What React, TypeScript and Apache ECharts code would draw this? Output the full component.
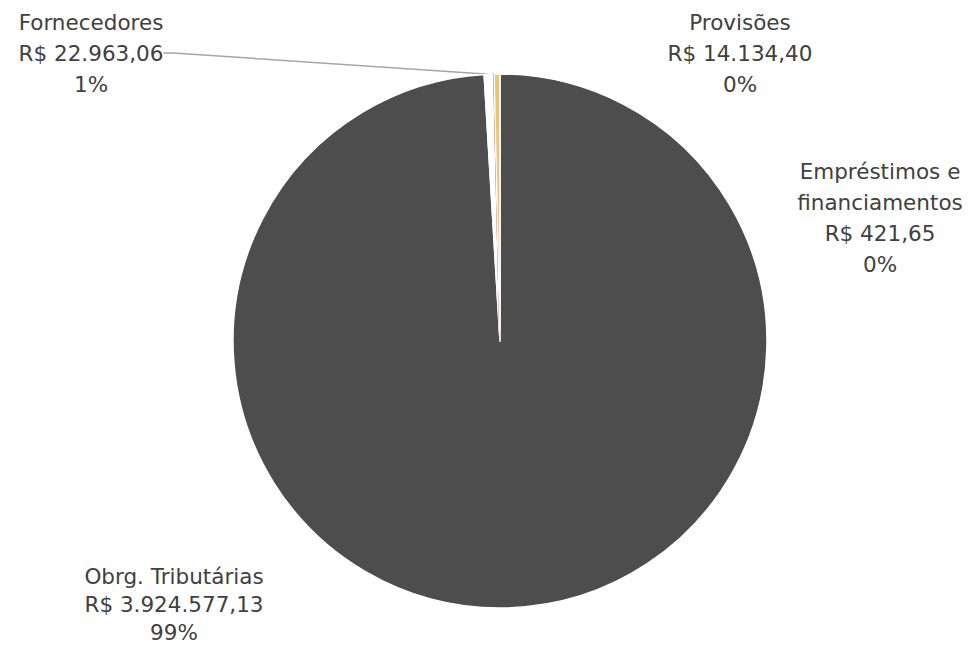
import React, { useEffect, useRef } from "react";
import * as echarts from "echarts";

const categories = ["Obrg. Tributárias", "Fornecedores", "Empréstimos e\nfinanciamentos", "Provisões"];
const values = [3924577.13, 22963.06, 421.65, 14134.4];
const colors = ["#4d4d4d", "#ffffff", "#c00000", "#e8c77f"];

// label anchor positions (layout only)
const labelPos: [number, number][] = [
  [174, 604],
  [91, 53],
  [880, 218],
  [740, 53],
];

const fmt = (v: number) =>
  v.toLocaleString("pt-BR", { minimumFractionDigits: 2, maximumFractionDigits: 2 });

export default function App() {
  const ref = useRef<HTMLDivElement>(null);
  useEffect(() => {
    document.body.style.margin = "0";
    const chart = echarts.init(ref.current!, null, { renderer: "svg" });
    const total = values.reduce((a, b) => a + b, 0);
    chart.setOption({
      animation: false,
      backgroundColor: "#ffffff",
      series: [
        {
          type: "pie",
          center: [500, 341],
          radius: 267,
          startAngle: 90,
          clockwise: true,
          avoidLabelOverlap: false,
          minShowLabelAngle: 0,
          itemStyle: { borderColor: "#ffffff", borderWidth: 1.5 },
          data: categories.map((c, i) => ({
            name: c,
            value: values[i],
            itemStyle:
              i === 2
                ? { color: colors[i], borderColor: colors[i], borderWidth: 1.5 }
                : { color: colors[i] },
            label: i === 0 ? { lineHeight: 28 } : {},
            labelLine: {
              show: i === 1,
              lineStyle: { color: "#a6a6a6", width: 1.5 },
              length: 10,
              length2: 10,
            },
          })),
          label: {
            show: true,
            position: "outside",
            fontFamily: "DejaVu Sans",
            fontSize: 21.5,
            lineHeight: 31,
            color: "#404040",
            align: "center",
            formatter: (p: any) =>
              `${p.name}\nR$ ${fmt(p.value)}\n${Math.round((p.value / total) * 100)}%`,
          },
          labelLayout: (p: any) => ({
            x: labelPos[p.dataIndex][0],
            y: labelPos[p.dataIndex][1],
            align: "center",
            verticalAlign: "middle",
          }),
        },
      ],
    });
    return () => chart.dispose();
  }, []);
  return <div ref={ref} style={{ width: 972, height: 646 }} />;
}
